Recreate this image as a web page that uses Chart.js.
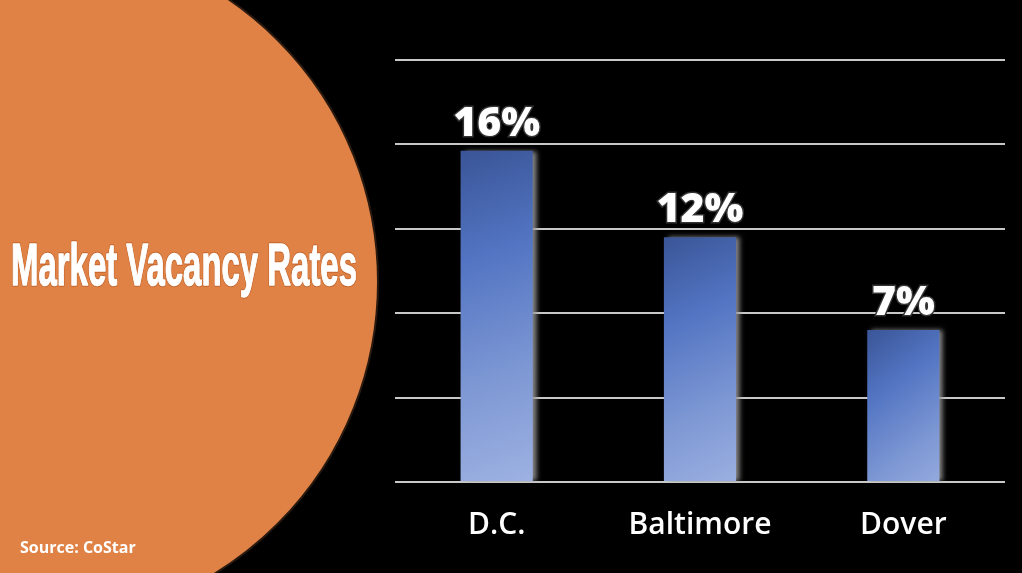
<!DOCTYPE html>
<html>
<head>
<meta charset="utf-8">
<script src="https://cdn.jsdelivr.net/npm/chart.js@4"></script>
<style>
  html, body { margin: 0; padding: 0; background: #000; }
  #wrap { width: 1022px; height: 573px; position: relative; }
</style>
</head>
<body>
<div id="wrap"><canvas id="chart-bars"></canvas></div>
<script>
// данные
const cities = ["D.C.", "Baltimore", "Dover"];
const vacancy = [15.7, 11.6, 7.2];
const valueLabels = ["16%", "12%", "7%"];
const yTicks = [0, 4, 8, 12, 16, 20];

const titleText = "Market Vacancy Rates";
const sourceText = "Source: CoStar";

const BAR_PCT = 0.355;

// фон + оранжевый круг + заголовок
const backdrop = {
  id: "backdrop",
  beforeDraw(chart) {
    const { ctx, width, height } = chart;
    ctx.save();
    ctx.fillStyle = "#000";
    ctx.fillRect(0, 0, width, height);

    ctx.beginPath();
    ctx.arc(36, 282, 342, 0, Math.PI * 2);
    ctx.fillStyle = "#e08245";
    ctx.fill();
    ctx.lineWidth = 2;
    ctx.strokeStyle = "#2a1a10";
    ctx.stroke();

    // заголовок, сжат по горизонтали
    ctx.font = 'bold 60px "Liberation Sans Narrow", "Liberation Sans", sans-serif';
    ctx.textBaseline = "alphabetic";
    const w = ctx.measureText(titleText).width;
    const sx = 346 / w;
    ctx.save();
    ctx.translate(11, 285);
    ctx.scale(sx, 1);
    ctx.lineJoin = "round";
    ctx.lineWidth = 3.5;
    ctx.strokeStyle = "#c4662c";
    ctx.strokeText(titleText, 0, 0);
    ctx.lineWidth = 1.5;
    ctx.strokeStyle = "#fff";
    ctx.strokeText(titleText, 0, 0);
    ctx.fillStyle = "#fff";
    ctx.fillText(titleText, 0, 0);
    ctx.restore();

    ctx.font = 'bold 16px "Open Sans", sans-serif';
    ctx.fillStyle = "#fff";
    ctx.fillText(sourceText, 20, 553);
    ctx.restore();
  },
};

// градиент для каждого столбика по координатам шкал
function barGradient(context) {
  const chart = context.chart;
  const area = chart.chartArea;
  if (!area || !chart.scales.x) return "#5274c2";
  const i = context.dataIndex;
  const xs = chart.scales.x, ys = chart.scales.y;
  const cx = xs.getPixelForValue(i);
  const w = (area.width / cities.length) * BAR_PCT;
  const left = cx - w / 2;
  const top = ys.getPixelForValue(vacancy[i]);
  const base = ys.getPixelForValue(0);
  const g = chart.ctx.createLinearGradient(left, top, left + w * 1.6, base);
  g.addColorStop(0, "#3a5597");
  g.addColorStop(0.3, "#5274c2");
  g.addColorStop(0.65, "#7e98d4");
  g.addColorStop(1, "#a2b5e4");
  return g;
}

// тень у столбиков + подписи значений
const barStyle = {
  id: "barStyle",
  beforeDatasetsDraw(chart) {
    const { ctx } = chart;
    ctx.save();
    ctx.shadowColor = "rgba(150,150,150,0.9)";
    ctx.shadowOffsetX = 4;
    ctx.shadowOffsetY = 0;
    ctx.shadowBlur = 5;
  },
  afterDatasetsDraw(chart) {
    const { ctx } = chart;
    ctx.restore();
    const meta = chart.getDatasetMeta(0);
    ctx.save();
    ctx.font = '800 41px "Open Sans", sans-serif';
    ctx.textAlign = "center";
    ctx.textBaseline = "alphabetic";
    meta.data.forEach((bar, i) => {
      ctx.lineWidth = 3;
      ctx.strokeStyle = "#333";
      ctx.strokeText(valueLabels[i], bar.x, bar.y - 15);
      ctx.fillStyle = "#fff";
      ctx.fillText(valueLabels[i], bar.x, bar.y - 15);
    });
    ctx.restore();
  },
};

new Chart(document.getElementById("chart-bars").getContext("2d"), {
  type: "bar",
  data: {
    labels: cities,
    datasets: [
      {
        data: vacancy,
        backgroundColor: barGradient,
        borderWidth: 0,
        categoryPercentage: 1,
        barPercentage: BAR_PCT,
      },
    ],
  },
  plugins: [backdrop, barStyle],
  options: {
    responsive: true,
    maintainAspectRatio: false,
    animation: false,
    layout: { padding: { left: 395, right: 17, top: 60, bottom: 13 } },
    plugins: { legend: { display: false }, tooltip: { enabled: false } },
    scales: {
      x: {
        grid: { display: false },
        border: { display: false },
        ticks: {
          color: "#fff",
          padding: 17,
          font: { family: '"Open Sans", sans-serif', size: 30, weight: 600 },
        },
      },
      y: {
        min: yTicks[0],
        max: yTicks[yTicks.length - 1],
        afterBuildTicks(scale) {
          scale.ticks = yTicks.map((v) => ({ value: v }));
        },
        ticks: { display: false },
        border: { display: false },
        grid: { color: "#c8c8c8", lineWidth: 2, drawTicks: false },
      },
    },
  },
});
</script>
</body>
</html>
